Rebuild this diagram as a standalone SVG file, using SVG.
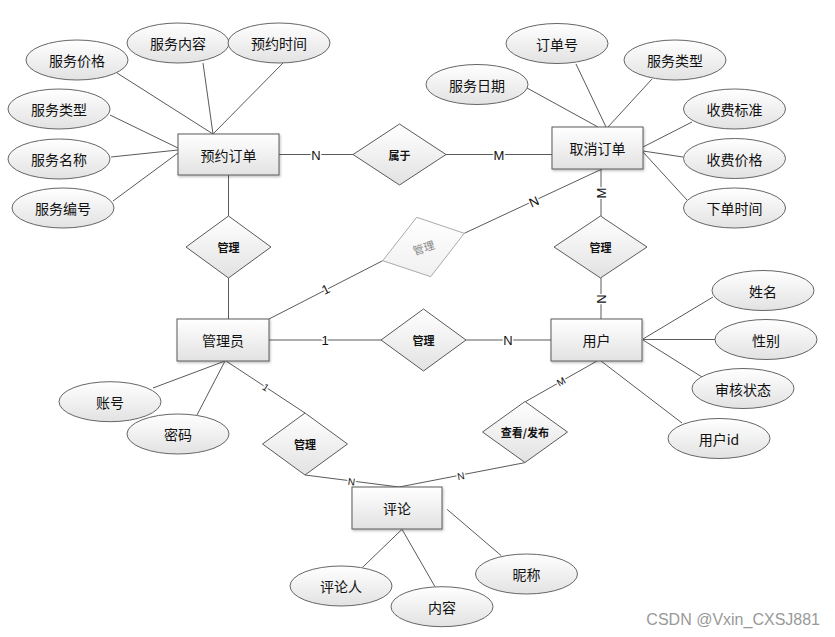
<svg xmlns="http://www.w3.org/2000/svg" width="835" height="637" viewBox="0 0 835 637">
<defs>
<linearGradient id="g" x1="0" y1="0" x2="0" y2="1"><stop offset="0" stop-color="#ffffff"/><stop offset="1" stop-color="#e2e2e2"/></linearGradient>
<linearGradient id="gl" x1="0" y1="0" x2="0" y2="1"><stop offset="0" stop-color="#ffffff"/><stop offset="1" stop-color="#f0f0f0"/></linearGradient>
<filter id="sh" x="-10%" y="-10%" width="130%" height="140%"><feDropShadow dx="1" dy="1.5" stdDeviation="1" flood-color="#000" flood-opacity="0.25"/></filter>
</defs>
<style>
.ent{fill:url(#g);stroke:#5a5a5a;stroke-width:1;filter:url(#sh)}
.att{fill:url(#g);stroke:#666;stroke-width:1}
.rel{fill:url(#g);stroke:#5a5a5a;stroke-width:1}
.relg{fill:url(#gl);stroke:#aaa;stroke-width:1}
.ln{stroke:#5a5a5a;stroke-width:1;fill:none}
text{font-family:"Noto Sans CJK SC","Liberation Sans",sans-serif;text-anchor:middle;dominant-baseline:central;fill:#111}
.t{font-size:14px}
.r{font-size:11px;font-weight:bold}
.c{font-family:"Liberation Sans",sans-serif;font-size:13px;stroke:#fff;stroke-width:3;paint-order:stroke;stroke-linejoin:round}
.cs{font-family:"Liberation Sans",sans-serif;font-size:10px;stroke:#fff;stroke-width:3;paint-order:stroke;stroke-linejoin:round}
</style>
<rect width="835" height="637" fill="#fff"/>
<g id="connectors">
<line class="ln" x1="117" y1="73" x2="213" y2="134"/>
<line class="ln" x1="203" y1="63" x2="213" y2="134"/>
<line class="ln" x1="283" y1="63" x2="213" y2="134"/>
<line class="ln" x1="110" y1="115" x2="178" y2="148"/>
<line class="ln" x1="111" y1="157" x2="178" y2="150"/>
<line class="ln" x1="113" y1="201" x2="178" y2="153"/>
<line class="ln" x1="279" y1="154.5" x2="353" y2="154.5"/>
<line class="ln" x1="446" y1="154.5" x2="552" y2="154.5"/>
<line class="ln" x1="527" y1="88" x2="598" y2="127"/>
<line class="ln" x1="576" y1="64" x2="606" y2="127"/>
<line class="ln" x1="652" y1="79" x2="608" y2="127"/>
<line class="ln" x1="692" y1="122" x2="643" y2="147"/>
<line class="ln" x1="683" y1="157" x2="643" y2="151"/>
<line class="ln" x1="687" y1="200" x2="643" y2="152"/>
<line class="ln" x1="228.5" y1="175" x2="228.5" y2="216"/>
<line class="ln" x1="228.5" y1="278" x2="228.5" y2="319"/>
<line class="ln" x1="269" y1="319" x2="382.7" y2="260.7"/>
<line class="ln" x1="464.3" y1="233.3" x2="602" y2="169"/>
<line class="ln" x1="601" y1="169" x2="601" y2="216"/>
<line class="ln" x1="601" y1="278" x2="601" y2="319"/>
<line class="ln" x1="269" y1="340" x2="381" y2="340"/>
<line class="ln" x1="466" y1="340" x2="551" y2="340"/>
<line class="ln" x1="713" y1="297" x2="643" y2="339"/>
<line class="ln" x1="716" y1="339.5" x2="643" y2="339.5"/>
<line class="ln" x1="702" y1="377" x2="643" y2="340"/>
<line class="ln" x1="682" y1="423" x2="601" y2="361"/>
<line class="ln" x1="153" y1="388" x2="225" y2="361"/>
<line class="ln" x1="197" y1="415" x2="225" y2="361"/>
<line class="ln" x1="226" y1="361" x2="305" y2="413"/>
<line class="ln" x1="305" y1="475" x2="399" y2="487"/>
<line class="ln" x1="524.6" y1="462.7" x2="399" y2="487"/>
<line class="ln" x1="597" y1="361" x2="525.4" y2="401.7"/>
<line class="ln" x1="362.6" y1="567.3" x2="402" y2="529.3"/>
<line class="ln" x1="435" y1="586.7" x2="402" y2="529.3"/>
<line class="ln" x1="501.3" y1="555.7" x2="447" y2="509.3"/>
<text class="c" x="316" y="155">N</text>
<text class="c" x="499" y="155">M</text>
<text class="c" x="325.7" y="289.3" transform="rotate(-27 325.7 289.3)">1</text>
<text class="c" x="534" y="201.7" transform="rotate(-24 534 201.7)">N</text>
<text class="c" x="601" y="193" transform="rotate(-90 601 193)">M</text>
<text class="c" x="601" y="299" transform="rotate(-90 601 299)">N</text>
<text class="c" x="325" y="340">1</text>
<text class="c" x="508" y="340">N</text>
<text class="cs" x="265.7" y="387.3" transform="rotate(33 265.7 387.3)">1</text>
<text class="cs" x="351.5" y="481.7" transform="rotate(7 351.5 481.7)">N</text>
<text class="cs" x="461" y="476" transform="rotate(-11 461 476)">N</text>
<text class="cs" x="561" y="381.7" transform="rotate(-30 561 381.7)">M</text>
</g>
<g id="e-yuyue"><rect class="ent" x="178" y="134" width="101" height="41"/><text class="t" x="228.5" y="155">预约订单</text></g>
<g id="e-quxiao"><rect class="ent" x="552" y="127" width="91" height="42"/><text class="t" x="597.5" y="148">取消订单</text></g>
<g id="e-admin"><rect class="ent" x="177" y="319" width="92" height="42"/><text class="t" x="223" y="340">管理员</text></g>
<g id="e-user"><rect class="ent" x="551" y="319" width="91" height="42"/><text class="t" x="596.5" y="340">用户</text></g>
<g id="e-comment"><rect class="ent" x="352" y="487" width="90" height="42"/><text class="t" x="397" y="508">评论</text></g>
<g id="r-shuyu"><polygon class="rel" points="353,154.5 399.5,124 446,154.5 399.5,185"/><text class="r" x="399.5" y="155">属于</text></g>
<g id="r-guanli1"><polygon class="rel" points="186,247 228.5,216 271,247 228.5,278"/><text class="r" x="228.5" y="247">管理</text></g>
<g id="r-guanli2"><polygon class="relg" points="382.7,260.7 416.7,217.3 464.3,233.3 430.7,276.7"/><text class="r" x="423.5" y="247" style="fill:#888;font-weight:normal" transform="rotate(-18 423.5 247)">管理</text></g>
<g id="r-guanli3"><polygon class="rel" points="381,340 423.5,309 466,340 423.5,371"/><text class="r" x="423.5" y="340">管理</text></g>
<g id="r-guanli4"><polygon class="rel" points="554,247 600.5,216 647,247 600.5,278"/><text class="r" x="600.5" y="247">管理</text></g>
<g id="r-guanli5"><polygon class="rel" points="262.5,444 305,413 347.5,444 305,475"/><text class="r" x="305" y="444">管理</text></g>
<g id="r-chakan"><polygon class="rel" points="482.5,432 525,401.5 567.5,432 525,462.5"/><text class="r" x="525" y="432">查看/发布</text></g>
<g id="a-fwjg"><ellipse class="att" cx="77" cy="60" rx="51" ry="20"/><text class="t" x="77" y="60">服务价格</text></g>
<g id="a-fwnr"><ellipse class="att" cx="178" cy="43" rx="51" ry="20"/><text class="t" x="178" y="43">服务内容</text></g>
<g id="a-yysj"><ellipse class="att" cx="279" cy="43" rx="51" ry="20"/><text class="t" x="279" y="43">预约时间</text></g>
<g id="a-fwlx1"><ellipse class="att" cx="59" cy="109" rx="51" ry="20"/><text class="t" x="59" y="109">服务类型</text></g>
<g id="a-fwmc"><ellipse class="att" cx="59" cy="159" rx="51" ry="20"/><text class="t" x="59" y="159">服务名称</text></g>
<g id="a-fwbh"><ellipse class="att" cx="63" cy="208" rx="51" ry="20"/><text class="t" x="63" y="208">服务编号</text></g>
<g id="a-ddh"><ellipse class="att" cx="557" cy="43.5" rx="51" ry="20"/><text class="t" x="557" y="43.5">订单号</text></g>
<g id="a-fwlx2"><ellipse class="att" cx="675" cy="60" rx="51" ry="20"/><text class="t" x="675" y="60">服务类型</text></g>
<g id="a-fwrq"><ellipse class="att" cx="477" cy="84.5" rx="51" ry="20"/><text class="t" x="477" y="84.5">服务日期</text></g>
<g id="a-sfbz"><ellipse class="att" cx="734.5" cy="109" rx="51" ry="20"/><text class="t" x="734.5" y="109">收费标准</text></g>
<g id="a-sfjg"><ellipse class="att" cx="734.5" cy="158.5" rx="51" ry="20"/><text class="t" x="734.5" y="158.5">收费价格</text></g>
<g id="a-xdsj"><ellipse class="att" cx="734.5" cy="208" rx="51" ry="20"/><text class="t" x="734.5" y="208">下单时间</text></g>
<g id="a-xm"><ellipse class="att" cx="763" cy="290.5" rx="51" ry="20"/><text class="t" x="763" y="290.5">姓名</text></g>
<g id="a-xb"><ellipse class="att" cx="766" cy="339.5" rx="51" ry="20"/><text class="t" x="766" y="339.5">性别</text></g>
<g id="a-shzt"><ellipse class="att" cx="743" cy="388.5" rx="51" ry="20"/><text class="t" x="743" y="388.5">审核状态</text></g>
<g id="a-yhid"><ellipse class="att" cx="719" cy="438.5" rx="51" ry="20"/><text class="t" x="719" y="438.5">用户id</text></g>
<g id="a-zh"><ellipse class="att" cx="110" cy="401.7" rx="51" ry="20"/><text class="t" x="110" y="401.7">账号</text></g>
<g id="a-mm"><ellipse class="att" cx="178" cy="434" rx="51" ry="20"/><text class="t" x="178" y="434">密码</text></g>
<g id="a-plr"><ellipse class="att" cx="341" cy="586" rx="51" ry="20"/><text class="t" x="341" y="586">评论人</text></g>
<g id="a-nr"><ellipse class="att" cx="442" cy="606.7" rx="51" ry="20"/><text class="t" x="442" y="606.7">内容</text></g>
<g id="a-nc"><ellipse class="att" cx="526.5" cy="574" rx="51" ry="20"/><text class="t" x="526.5" y="574">昵称</text></g>
<text x="820" y="619" style="font-family:'Liberation Sans',sans-serif;font-size:16px;text-anchor:end;fill:#999">CSDN @Vxin_CXSJ881</text>
</svg>
